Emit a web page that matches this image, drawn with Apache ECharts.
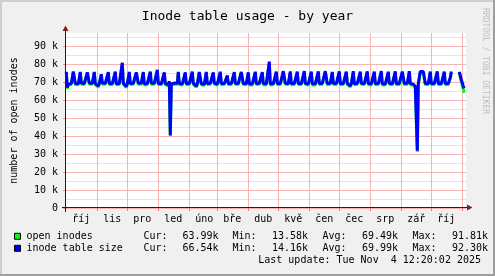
<!DOCTYPE html>
<html><head><meta charset="utf-8">
<script src="https://cdn.jsdelivr.net/npm/echarts@6/dist/echarts.min.js"></script>
<style>html,body{margin:0;padding:0;background:#f0f0f0}#c{width:495px;height:276px}</style>
</head><body><div id="c"></div>
<script>
// Month tick labels (Czech), first month = October 2024
const monthLabels = ['říj','lis','pro','led','úno','bře','dub','kvě','čen','čec','srp','zář','říj'];
const startYear = 2024, startMonth = 9; // Oct 2024 = day 0
const yTickLabels = ['0','10 k','20 k','30 k','40 k','50 k','60 k','70 k','80 k','90 k'];

// daily values (thousands), day 0 = 1 Oct 2024
const inodeTableSize = [
75.7,66.9,68.8,69.3,69.6,69.1,69.4,
75.9,75.7,69.2,68.9,69.5,69.0,69.3,
75.6,69.4,69.0,68.6,69.2,69.6,69.1,
75.4,75.3,69.4,69.1,68.7,69.3,69.6,
75.6,69.1,68.9,69.3,67.8,69.2,69.0,
74.3,69.4,69.2,68.8,69.3,69.5,69.0,
75.5,69.2,69.4,68.9,69.1,69.4,69.2,
75.7,69.0,69.3,69.6,69.2,68.8,69.4,
80.7,69.3,69.0,68.7,67.5,69.1,69.3,
75.6,69.2,69.5,69.0,69.3,68.9,69.2,
75.4,75.2,69.3,69.1,68.6,69.4,69.2,
75.5,69.0,69.2,69.5,69.1,68.8,69.3,
75.8,69.4,69.1,68.9,69.3,69.0,69.2,
76.8,69.2,69.4,68.6,69.0,69.3,68.9,
75.4,69.1,68.8,69.0,68.5,70.4,40.5,
68.9,68.7,69.2,69.4,69.1,68.8,69.3,
75.6,69.2,69.0,69.3,68.9,69.2,69.4,
75.4,69.1,69.4,68.8,69.2,69.0,69.3,
75.7,69.3,68.9,69.2,67.7,69.1,69.2,
75.5,75.3,69.0,69.3,69.1,68.8,69.4,
75.6,69.2,69.1,68.9,69.3,69.0,69.2,
75.4,69.4,69.0,69.2,68.8,69.3,69.1,
75.7,69.1,69.3,69.0,69.2,68.9,69.3,
73.6,69.2,69.0,69.3,69.1,69.4,69.0,
75.5,69.3,69.1,68.8,69.2,69.0,69.3,
75.6,75.4,69.2,69.0,69.3,69.1,68.9,
75.4,69.0,69.2,69.4,68.9,69.2,69.1,
75.7,69.2,68.9,69.1,69.3,69.0,69.2,
75.5,69.1,69.3,68.8,69.0,69.2,69.4,
81.3,69.0,69.2,69.3,69.1,68.9,69.2,
75.8,69.2,69.0,69.3,69.1,69.2,68.9,
76.0,75.8,69.3,69.1,68.9,69.2,69.0,
75.9,69.1,69.3,69.0,69.2,68.8,69.3,
75.7,69.2,69.0,68.7,69.1,69.3,69.0,
76.0,69.3,69.1,69.2,68.9,69.1,69.2,
75.8,69.0,69.2,69.3,69.0,68.8,69.3,
75.9,69.2,68.9,69.1,69.3,69.0,69.2,
76.0,75.8,69.1,69.2,68.9,69.3,69.1,
75.6,69.3,69.0,69.2,69.1,68.9,69.2,
75.9,69.1,69.3,68.8,69.2,69.0,69.3,
75.8,69.2,69.0,69.3,67.9,69.1,69.2,
76.0,69.0,69.2,69.1,69.3,68.9,69.0,
75.7,69.3,69.1,69.0,69.2,69.3,68.9,
75.9,69.1,69.2,68.9,69.0,69.2,69.3,
75.8,69.2,69.0,69.3,69.1,68.8,69.2,
76.0,69.0,69.3,69.1,68.9,69.2,69.0,
75.7,69.3,69.1,69.2,69.0,68.9,69.3,
75.9,69.1,69.0,69.3,69.2,69.0,69.1,
75.8,75.6,69.2,69.0,69.1,69.3,68.9,
76.0,69.1,69.3,69.0,68.8,68.2,67.6,
67.0,31.8,69.1,69.3,75.8,75.9,75.8,
75.9,75.7,69.2,69.0,69.3,69.1,68.9,
75.8,69.1,69.3,69.0,69.2,68.9,69.2,
75.9,69.2,69.0,69.3,69.1,69.0,69.2,
75.7,69.1,69.3,69.0,69.2,68.9,72.5,
75.8,null,null,null,null,null,null,
null,75.6,73.5,71.2,69.6,67.5,66.5,
null
];
const openInodes = [
75.2,66.3,68.2,68.7,69.0,68.6,68.8,
75.3,75.1,68.6,68.4,68.9,68.5,68.7,
75.0,68.8,68.5,68.0,68.6,69.0,68.5,
74.9,74.7,68.8,68.5,68.1,68.7,69.0,
75.0,68.5,68.3,68.8,67.2,68.6,68.4,
73.8,68.8,68.6,68.2,68.7,68.9,68.5,
74.9,68.6,68.8,68.3,68.5,68.8,68.6,
75.1,68.4,68.7,69.0,68.6,68.2,68.8,
80.2,68.7,68.4,68.1,66.9,68.5,68.7,
75.0,68.6,68.9,68.4,68.7,68.3,68.6,
74.8,74.6,68.7,68.5,68.0,68.8,68.6,
74.9,68.4,68.6,68.9,68.5,68.2,68.7,
75.2,68.8,68.5,68.3,68.7,68.4,68.6,
76.2,68.6,68.8,68.0,68.4,68.7,68.3,
74.8,68.5,68.2,68.4,67.9,69.8,40.0,
68.3,68.1,68.6,68.8,68.5,68.2,68.7,
75.0,68.6,68.4,68.7,68.3,68.6,68.8,
74.8,68.5,68.8,68.2,68.6,68.4,68.7,
75.1,68.7,68.3,68.6,67.1,68.5,68.6,
74.9,74.7,68.4,68.7,68.5,68.2,68.8,
75.0,68.6,68.5,68.3,68.7,68.4,68.6,
74.8,68.8,68.4,68.6,68.2,68.7,68.5,
75.1,68.5,68.7,68.4,68.6,68.3,68.7,
73.0,68.6,68.4,68.7,68.5,68.8,68.4,
74.9,68.7,68.5,68.2,68.6,68.4,68.7,
75.0,74.8,68.6,68.4,68.7,68.5,68.3,
74.8,68.4,68.6,68.8,68.3,68.6,68.5,
75.1,68.6,68.3,68.5,68.7,68.4,68.6,
74.9,68.5,68.7,68.2,68.4,68.6,68.8,
80.7,68.4,68.6,68.7,68.5,68.3,68.6,
75.2,68.6,68.4,68.7,68.5,68.6,68.3,
75.4,75.2,68.7,68.5,68.3,68.6,68.4,
75.3,68.5,68.7,68.4,68.6,68.2,68.7,
75.1,68.6,68.4,68.1,68.5,68.7,68.4,
75.4,68.7,68.5,68.6,68.3,68.5,68.6,
75.2,68.4,68.6,68.7,68.4,68.2,68.7,
75.3,68.6,68.3,68.5,68.7,68.4,68.6,
75.4,75.2,68.5,68.6,68.3,68.7,68.5,
75.0,68.7,68.4,68.6,68.5,68.3,68.6,
75.3,68.5,68.7,68.2,68.6,68.4,68.7,
75.2,68.6,68.4,68.7,67.3,68.5,68.6,
75.4,68.4,68.6,68.5,68.7,68.3,68.4,
75.1,68.7,68.5,68.4,68.6,68.7,68.3,
75.3,68.5,68.6,68.3,68.4,68.6,68.7,
75.2,68.6,68.4,68.7,68.5,68.2,68.6,
75.4,68.4,68.7,68.5,68.3,68.6,68.4,
75.1,68.7,68.5,68.6,68.4,68.3,68.7,
75.3,68.5,68.4,68.7,68.6,68.4,68.5,
75.2,75.0,68.6,68.4,68.5,68.7,68.3,
75.4,68.5,68.7,68.4,68.2,67.6,67.0,
66.4,31.3,68.5,68.7,75.2,75.3,75.2,
75.3,75.1,68.6,68.4,68.7,68.5,68.3,
75.2,68.5,68.7,68.4,68.6,68.3,68.6,
75.3,68.6,68.4,68.7,68.5,68.4,68.6,
75.1,68.5,68.7,68.4,68.6,68.3,71.9,
75.2,null,null,null,null,null,null,
null,75.0,72.5,70.0,68.0,65.8,64.0,
null
];

const legendRows = [
  {name:'open inodes', color:'#00ff00', cur:'63.99k', min:'13.58k', avg:'69.49k', max:'91.81k'},
  {name:'inode table size', color:'#0000ff', cur:'66.54k', min:'14.16k', avg:'69.99k', max:'92.30k'}
];
const lastUpdate = 'Last update: Tue Nov  4 12:20:02 2025';
const titleText = 'Inode table usage - by year';
const yName = 'number of open inodes';

// month start offsets in days (tick positions)
const day0 = Date.UTC(startYear, startMonth, 1);
const monthStarts = [];
for (let i = 0; i <= 13; i++) monthStarts.push(Math.round((Date.UTC(startYear, startMonth + i, 1) - day0) / 864e5));
const labelPos = monthLabels.map((_, i) => monthStarts[i] + 15);

const F = '"DejaVu Sans Mono", monospace';
const chart = echarts.init(document.getElementById('c'), null, {renderer:'canvas'});

const graphic = [];
// frame shading
graphic.push({type:'rect', shape:{x:0,y:0,width:495,height:2}, style:{fill:'#cfcfcf'}, silent:true});
graphic.push({type:'rect', shape:{x:0,y:0,width:2,height:276}, style:{fill:'#cfcfcf'}, silent:true});
graphic.push({type:'rect', shape:{x:0,y:274,width:495,height:2}, style:{fill:'#9e9e9e'}, silent:true});
graphic.push({type:'rect', shape:{x:493,y:0,width:2,height:276}, style:{fill:'#9e9e9e'}, silent:true});
// axes
graphic.push({type:'line', shape:{x1:62,y1:207.5,x2:468,y2:207.5}, style:{stroke:'#1f1f1f',lineWidth:1}, z:10});
graphic.push({type:'line', shape:{x1:65.5,y1:212,x2:65.5,y2:30}, style:{stroke:'#1f1f1f',lineWidth:1}, z:10});
graphic.push({type:'polygon', shape:{points:[[467,204.5],[472.5,207.5],[467,210.5]]}, style:{fill:'#801f1f'}, z:10});
graphic.push({type:'polygon', shape:{points:[[62.5,31],[65.5,25.5],[68.5,31]]}, style:{fill:'#801f1f'}, z:10});
// title
graphic.push({type:'text', x:247.5, y:17, style:{text:titleText, font:'13px '+F, fill:'#000', align:'center', verticalAlign:'middle'}});
// y-axis name
graphic.push({type:'text', x:14, y:120.5, rotation:Math.PI/2, style:{text:yName, font:'10px '+F, fill:'#000', align:'center', verticalAlign:'middle'}});
// watermark
graphic.push({type:'text', x:485.5, y:61, rotation:-Math.PI/2, style:{text:'RRDTOOL / TOBI OETIKER', font:'8px '+F, fill:'#bdbdbd', align:'center', verticalAlign:'middle'}});
// legend
legendRows.forEach((r, i) => {
  const y = 236.8 + i * 12;
  graphic.push({type:'rect', shape:{x:14.5,y:y-3.5,width:6,height:6}, style:{fill:r.color, stroke:'#000', lineWidth:1}});
  const t = (txt, x, al) => graphic.push({type:'text', x:x, y:y, style:{text:txt, font:'10px '+F, fill:'#000', align:al, verticalAlign:'middle'}});
  t(r.name, 26.5, 'left');
  t('Cur:', 143.5, 'left'); t(r.cur, 218.5, 'right');
  t('Min:', 232.5, 'left'); t(r.min, 308, 'right');
  t('Avg:', 322.5, 'left'); t(r.avg, 398, 'right');
  t('Max:', 412.5, 'left'); t(r.max, 488, 'right');
});
graphic.push({type:'text', x:481, y:260.5, style:{text:lastUpdate, font:'10px '+F, fill:'#000', align:'right', verticalAlign:'middle'}});

const YMAX = 175 / 1.8;
chart.setOption({
  animation:false,
  backgroundColor:'#f0f0f0',
  grid:{left:66, top:33, width:400, height:175, show:true, backgroundColor:'#ffffff', borderWidth:0, containLabel:false},
  xAxis:[{
    type:'value', min:-0.3, max:399.7,
    axisLine:{show:false},
    axisTick:{show:true, customValues:monthStarts.slice(1), length:3, lineStyle:{color:'#e08080'}},
    splitLine:{show:true, lineStyle:{color:'#f6b4b4', width:1}},
    axisLabel:{show:true, customValues:labelPos, margin:6, fontFamily:'DejaVu Sans Mono', fontSize:10, color:'#000',
      formatter:(v)=>{const i = labelPos.indexOf(v); return i>=0 ? monthLabels[i] : '';}}
  }],
  yAxis:[{
    type:'value', min:0, max:YMAX, interval:10,
    axisLine:{show:false},
    axisTick:{show:true, length:3, lineStyle:{color:'#e08080'}},
    splitLine:{show:true, showMaxLine:false, lineStyle:{color:'#f6b4b4', width:1}},
    axisLabel:{show:true, showMaxLabel:false, margin:8, fontFamily:'DejaVu Sans Mono', fontSize:10, color:'#000',
      formatter:(v)=>{const i = Math.round(v/10); return (Math.abs(v - i*10) < 1e-6 && yTickLabels[i]) ? yTickLabels[i] : '';}}
  },{
    type:'value', min:0, max:YMAX, interval:5,
    axisLine:{show:false}, axisTick:{show:false}, axisLabel:{show:false},
    splitLine:{show:true, showMaxLine:false, lineStyle:{color:['rgba(0,0,0,0)','#e4e4e4'], width:1}}
  }],
  series:[
    {name:'open inodes', type:'line', data:openInodes.map((v,i)=>[i,v]), showSymbol:false, symbol:'none',
     connectNulls:false, lineStyle:{color:'#00ff00', width:3}, itemStyle:{color:'#00ff00'}, z:3},
    {name:'inode table size', type:'line', data:inodeTableSize.map((v,i)=>[i,v]), showSymbol:false, symbol:'none',
     connectNulls:false, lineStyle:{color:'#0000ff', width:3}, itemStyle:{color:'#0000ff'}, z:4}
  ],
  graphic:graphic
});
</script></body></html>
